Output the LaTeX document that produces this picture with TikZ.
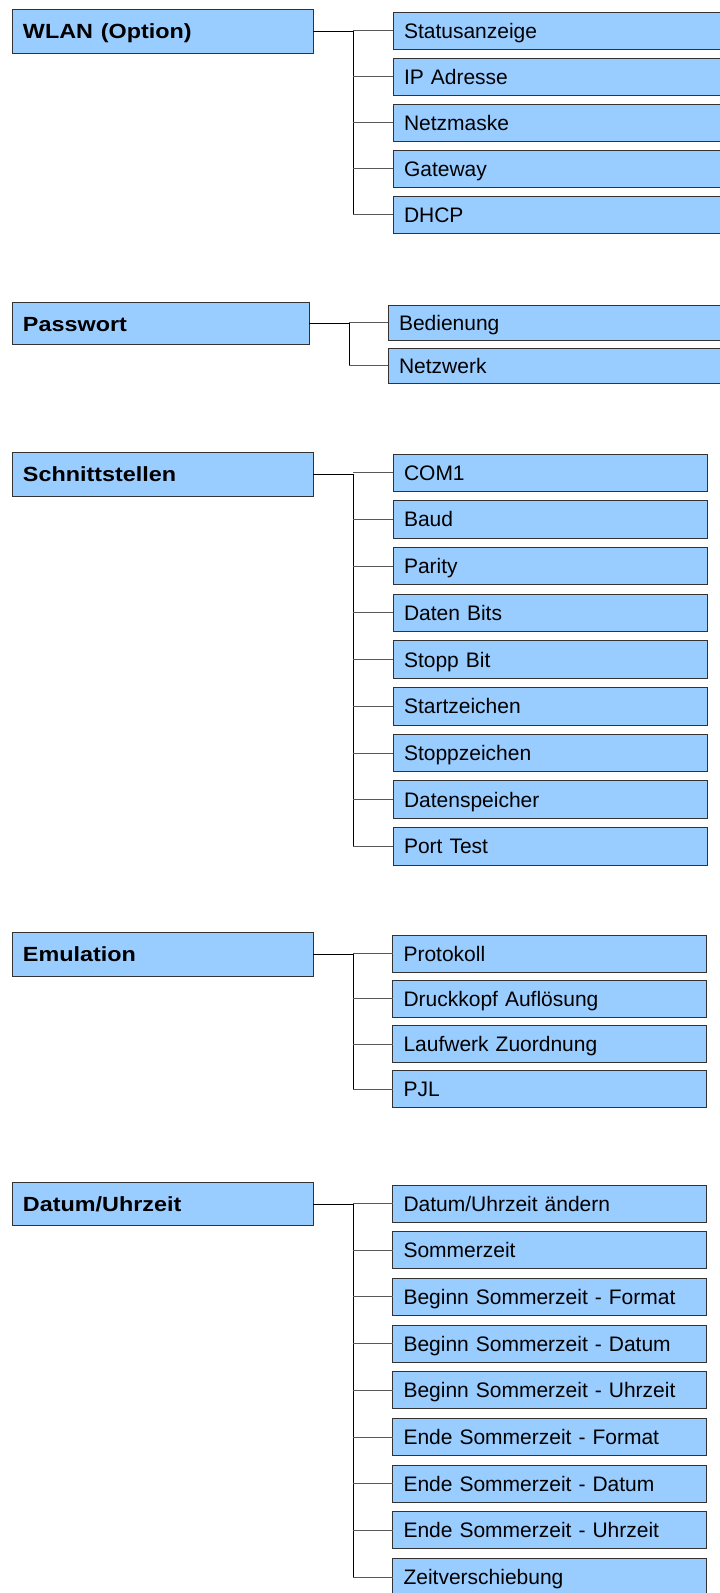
\documentclass[tikz,border=0pt]{standalone}
\usepackage{fontspec}
\setmainfont{Liberation Sans}
\usetikzlibrary{positioning}
\definecolor{menublue}{RGB}{153,204,255}
\newcommand{\ptitle}[1]{\scalebox{1.14}[1]{\bfseries #1}}

\tikzset{
  menubox/.style={rectangle, draw=black!80, fill=menublue, line width=0.95pt, outer sep=0pt,
    inner xsep=11pt, inner ysep=0pt, align=left, text height=15pt, text depth=0pt},
  parent/.style={menubox, minimum height=44pt, text width=279pt,
    font=\fontsize{20.5}{24}\selectfont, anchor=north west},
  entry/.style={menubox, minimum height=37pt, text width=#1,
    font=\fontsize{21}{25}\selectfont},
  trunk/.style={black, line width=0.95pt},
  branch/.style={black!65, line width=0.9pt}
}

\begin{document}
\begin{tikzpicture}[x=1pt, y=-1pt]
    \useasboundingbox (0,0) rectangle (720,1593);

    % WLAN
    \node[parent] (wlan) at (12,9) {\ptitle{WLAN (Option)}};
    \node[entry=307pt, anchor=north west] (w1) at (393,12) {Statusanzeige};
    \node[entry=307pt, below=9pt of w1] (w2) {IP Adresse};
    \node[entry=307pt, below=9pt of w2] (w3) {Netzmaske};
    \node[entry=307pt, below=9pt of w3] (w4) {Gateway};
    \node[entry=307pt, below=9pt of w4] (w5) {DHCP};
    \coordinate[right=40pt of wlan.east] (wlanT);
    \draw[trunk] (wlan.east) -- (wlanT) -- (wlanT |- w5.west);
    \foreach \c in {w1,w2,w3,w4,w5}
      \draw[branch] (wlanT |- \c.west) -- (\c.west);

    % Passwort
    \node[parent, minimum height=42pt, text width=275pt] (pw) at (12,302.5) {\ptitle{Passwort}};
    \node[entry=312pt, minimum height=35.5pt, anchor=north west] (p1) at (388,305) {Bedienung};
    \node[entry=312pt, minimum height=35.5pt, below=7.5pt of p1] (p2) {Netzwerk};
    \coordinate[right=40pt of pw.east] (pwT);
    \draw[trunk] (pw.east) -- (pwT) -- (pwT |- p2.west);
    \foreach \c in {p1,p2}
      \draw[branch] (pwT |- \c.west) -- (\c.west);

    % Schnittstellen
    \node[parent] (sst) at (12,452) {\ptitle{Schnittstellen}};
    \node[entry=292pt, minimum height=37.5pt, anchor=north west] (s1) at (393,454) {COM1};
    \node[entry=292pt, minimum height=37.5pt, below=9.2pt of s1] (s2) {Baud};
    \node[entry=292pt, minimum height=37.5pt, below=9.2pt of s2] (s3) {Parity};
    \node[entry=292pt, minimum height=37.5pt, below=9.2pt of s3] (s4) {Daten Bits};
    \node[entry=292pt, minimum height=37.5pt, below=9.2pt of s4] (s5) {Stopp Bit};
    \node[entry=292pt, minimum height=37.5pt, below=9.2pt of s5] (s6) {Startzeichen};
    \node[entry=292pt, minimum height=37.5pt, below=9.2pt of s6] (s7) {Stoppzeichen};
    \node[entry=292pt, minimum height=37.5pt, below=9.2pt of s7] (s8) {Datenspeicher};
    \node[entry=292pt, minimum height=37.5pt, below=9.2pt of s8] (s9) {Port Test};
    \coordinate[right=40pt of sst.east] (sstT);
    \draw[trunk] (sst.east) -- (sstT) -- (sstT |- s9.west);
    \foreach \c in {s1,s2,s3,s4,s5,s6,s7,s8,s9}
      \draw[branch] (sstT |- \c.west) -- (\c.west);

    % Emulation
    \node[parent, minimum height=43.3pt] (emu) at (12,932.7) {\ptitle{Emulation}};
    \node[entry=292pt, minimum height=37.3pt, anchor=north west] (e1) at (392.5,935) {Protokoll};
    \node[entry=292pt, minimum height=37.3pt, below=7.9pt of e1] (e2) {Druckkopf Auflösung};
    \node[entry=292pt, minimum height=37.3pt, below=7.9pt of e2] (e3) {Laufwerk Zuordnung};
    \node[entry=292pt, minimum height=37.3pt, below=7.9pt of e3] (e4) {PJL};
    \coordinate[right=40pt of emu.east] (emuT);
    \draw[trunk] (emu.east) -- (emuT) -- (emuT |- e4.west);
    \foreach \c in {e1,e2,e3,e4}
      \draw[branch] (emuT |- \c.west) -- (\c.west);

    % Datum/Uhrzeit
    \node[parent, minimum height=43.4pt] (dat) at (12,1182.5) {\ptitle{Datum/Uhrzeit}};
    \node[entry=292pt, anchor=north west] (d1) at (392.5,1185) {Datum/Uhrzeit ändern};
    \node[entry=292pt, below=9.7pt of d1] (d2) {Sommerzeit};
    \node[entry=292pt, below=9.7pt of d2] (d3) {Beginn Sommerzeit - Format};
    \node[entry=292pt, below=9.7pt of d3] (d4) {Beginn Sommerzeit - Datum};
    \node[entry=292pt, below=9.7pt of d4] (d5) {Beginn Sommerzeit - Uhrzeit};
    \node[entry=292pt, below=9.7pt of d5] (d6) {Ende Sommerzeit - Format};
    \node[entry=292pt, below=9.7pt of d6] (d7) {Ende Sommerzeit - Datum};
    \node[entry=292pt, below=9.7pt of d7] (d8) {Ende Sommerzeit - Uhrzeit};
    \node[entry=292pt, below=9.7pt of d8] (d9) {Zeitverschiebung};
    \coordinate[right=40pt of dat.east] (datT);
    \draw[trunk] (dat.east) -- (datT) -- (datT |- d9.west);
    \foreach \c in {d1,d2,d3,d4,d5,d6,d7,d8,d9}
      \draw[branch] (datT |- \c.west) -- (\c.west);
\end{tikzpicture}
\end{document}
